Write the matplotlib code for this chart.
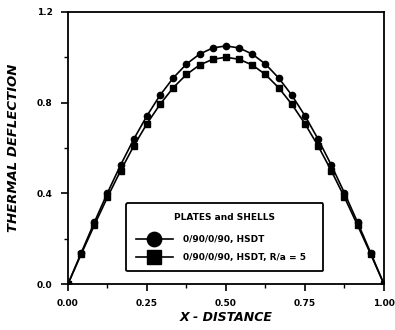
import numpy as np
import matplotlib as mpl
mpl.use('Agg')
import matplotlib.pyplot as plt

plt.rcParams['font.family'] = ['DejaVu Sans']
plt.rcParams['font.weight'] = 'bold'

# x positions (25 stations) and deflections
x_dist = [i / 24 for i in range(25)]
plate_half = [0.0, 0.137, 0.272, 0.402, 0.525, 0.639, 0.742, 0.833, 0.909, 0.970, 1.014, 1.041, 1.05]
shell_half = [0.0, 0.131, 0.259, 0.383, 0.500, 0.609, 0.707, 0.793, 0.866, 0.924, 0.966, 0.991, 1.00]
plate = plate_half + plate_half[-2::-1]
shell = shell_half + shell_half[-2::-1]

labels = ['0/90/0/90, HSDT', '0/90/0/90, HSDT, R/a = 5']
legend_title = 'PLATES and SHELLS'

fig = plt.figure(figsize=(3.95, 3.3), dpi=100)
ax = fig.add_axes([0.172, 0.139, 0.800, 0.825])

ax.plot(x_dist, plate, '-o', color='k', lw=1.2, ms=4.5, label=labels[0])
ax.plot(x_dist, shell, '-s', color='k', lw=1.2, ms=4.5, label=labels[1])

ax.set_xlim(0, 1)
ax.set_ylim(0, 1.2)
ax.set_xticks([0, 0.25, 0.5, 0.75, 1.0])
ax.set_xticklabels(['0.00', '0.25', '0.50', '0.75', '1.00'])
ax.set_xticks([0.125, 0.375, 0.625, 0.875], minor=True)
ax.set_yticks([0.0, 0.4, 0.8, 1.2])
ax.set_yticklabels(['0.0', '0.4', '0.8', '1.2'])
ax.set_yticks([0.2, 0.6, 1.0], minor=True)
ax.tick_params(which='major', direction='out', length=5, width=1.2, labelsize=6.5, pad=6)
ax.tick_params(which='minor', direction='out', length=3, width=1.0)
for s in ax.spines.values():
    s.set_linewidth(1.3)

ax.set_xlabel('X - DISTANCE', fontsize=9, fontweight='bold', style='italic', labelpad=2)
ax.set_ylabel('THERMAL DEFLECTION', fontsize=9.5, fontweight='bold', style='italic', labelpad=12)

leg = ax.legend(loc='lower left', bbox_to_anchor=(0.171, 0.03, 0.652, 0.27), mode='expand',
                title=legend_title, fontsize=6.5, title_fontsize=6.5, markerscale=2.3,
                handlelength=4.2, handletextpad=1.1, frameon=True, fancybox=True,
                edgecolor='k', framealpha=1, borderpad=1.0, labelspacing=1.0)
leg.get_frame().set_linewidth(1.3)
leg.get_title().set_fontweight('bold')
leg._legend_box.sep = 10

plt.savefig('out.png', dpi=100)
